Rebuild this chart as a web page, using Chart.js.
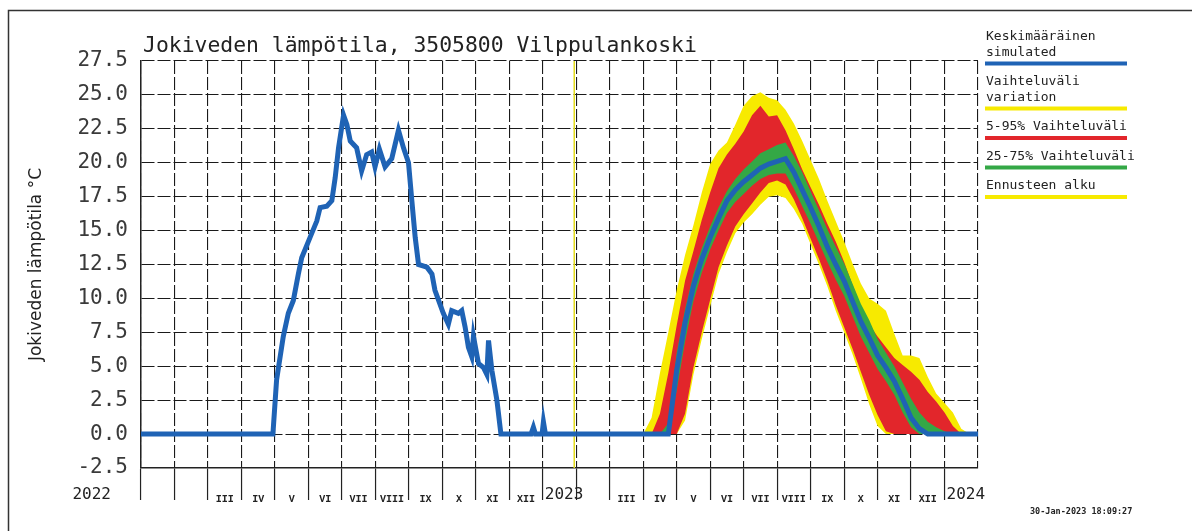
<!DOCTYPE html>
<html>
<head>
<meta charset="utf-8">
<script src="https://cdn.jsdelivr.net/npm/chart.js@4.4.0/dist/chart.umd.min.js"></script>
<style>
  body { margin: 0; background: #fff; }
  canvas { display: block; }
</style>
</head>
<body>
<canvas id="myChart" width="1192" height="531"></canvas>
<script>
// x = kuukausia alkaen 1.1.2022 (0 = tammikuu 2022, 12 = tammikuu 2023)
const chartTitle = 'Jokiveden lämpötila, 3505800 Vilppulankoski';
const yTitle = 'Jokiveden lämpötila °C';
const stamp = '30-Jan-2023 18:09:27';

// havaittu / simuloitu 2022
const obsMonths = [0, 3.94, 4.05, 4.25, 4.4, 4.55, 4.7, 4.8, 5.05, 5.25, 5.35, 5.55, 5.7, 5.8, 5.9, 6.05, 6.15, 6.25, 6.44, 6.59,
  6.74, 6.89, 6.99, 7.12, 7.29, 7.49, 7.69, 7.84, 7.99, 8.09, 8.19, 8.29, 8.54, 8.69, 8.78, 9.03, 9.18, 9.28, 9.48, 9.58,
  9.68, 9.78, 9.88, 9.93, 10.08, 10.23, 10.33, 10.38, 10.48, 10.63, 10.75, 11.65, 11.72, 11.78, 11.98, 12.02, 12.08, 13];
const obsTemp = [0, 0, 4.0, 7.2, 8.9, 9.85, 11.8, 13.0, 14.5, 15.7, 16.7, 16.8, 17.2, 18.9, 21.1, 23.5, 22.8, 21.6, 21.1, 19.4,
  20.6, 20.8, 19.7, 21.0, 19.7, 20.3, 22.4, 21.1, 20.0, 17.2, 14.5, 12.5, 12.3, 11.8, 10.6, 8.9, 8.1, 9.1, 8.9, 9.1,
  7.9, 6.4, 5.7, 7.2, 5.2, 4.9, 4.4, 6.9, 4.7, 2.5, 0, 0, 0.5, 0, 0, 0.9, 0, 0];

// ennuste 2023
const fcMonths = [13, 13.25, 13.5, 13.75, 14, 14.25, 14.5, 14.75, 15, 15.25, 15.5, 15.75, 16, 16.25, 16.5, 16.75,
  17, 17.25, 17.5, 17.75, 18, 18.25, 18.5, 18.75, 19, 19.25, 19.5, 19.75, 20, 20.25, 20.5, 20.75,
  21, 21.25, 21.5, 21.75, 22, 22.25, 22.5, 22.75, 23, 23.25, 23.5, 23.75, 24, 24.25, 24.5, 24.75, 25];
const fcMean = [0, 0, 0, 0, 0, 0, 0, 0, 0, 0, 0, 0, 4.7, 8.2, 10.9, 12.9,
  14.5, 15.9, 17.2, 18.0, 18.6, 19.1, 19.6, 19.9, 20.1, 20.3, 19.3, 18.0, 16.7, 15.3, 13.8, 12.5,
  11.3, 9.8, 8.3, 7.1, 5.8, 4.9, 3.9, 2.6, 1.2, 0.4, 0, 0, 0, 0, 0, 0, 0];
const p75 = [0, 0, 0, 0, 0, 0, 0, 0, 0, 0, 0, 0.8, 6.0, 9.2, 11.8, 13.7,
  15.3, 16.7, 17.9, 18.8, 19.5, 20.1, 20.7, 21.0, 21.3, 21.5, 20.5, 19.3, 17.9, 16.5, 15.1, 13.8,
  12.6, 11.1, 9.6, 8.4, 7.0, 6.0, 5.0, 3.8, 2.6, 1.6, 0.9, 0.5, 0.2, 0, 0, 0, 0];
const p25 = [0, 0, 0, 0, 0, 0, 0, 0, 0, 0, 0, 0, 3.2, 6.8, 9.8, 11.9,
  13.6, 15.0, 16.3, 17.1, 17.7, 18.3, 18.8, 19.1, 19.2, 19.2, 18.1, 16.8, 15.5, 14.1, 12.7, 11.4,
  10.2, 8.7, 7.2, 6.0, 4.8, 3.9, 2.9, 1.6, 0.5, 0, 0, 0, 0, 0, 0, 0, 0];
const p95 = [0, 0, 0, 0, 0, 0, 0, 0, 0, 0, 1.5, 4.5, 8.0, 11.3, 13.5, 15.8,
  17.8, 19.6, 20.6, 21.4, 22.3, 23.5, 24.2, 23.4, 23.5, 22.4, 21.0, 19.5, 18.2, 16.9, 15.5, 14.2,
  12.7, 11.0, 9.4, 8.1, 7.2, 6.4, 5.6, 5.1, 4.6, 4.0, 3.1, 2.4, 1.6, 0.6, 0, 0, 0];
const p5 = [0, 0, 0, 0, 0, 0, 0, 0, 0, 0, 0, 0, 0, 1.5, 4.9, 7.5,
  9.9, 12.3, 13.9, 15.3, 16.2, 17.0, 17.8, 18.5, 18.7, 18.4, 17.3, 15.9, 14.4, 12.9, 11.3, 9.5,
  7.9, 6.3, 4.6, 2.9, 1.4, 0.2, 0, 0, 0, 0, 0, 0, 0, 0, 0, 0, 0];
const varMax = [0, 0, 0, 0, 0, 0, 0, 0, 0, 1.2, 4.5, 7.5, 10.6, 13.2, 15.4, 17.8,
  19.9, 20.9, 21.5, 22.8, 24.2, 24.9, 25.2, 24.8, 24.6, 23.9, 22.9, 21.6, 20.2, 18.8, 17.2, 15.7,
  14.2, 12.6, 11.1, 10.0, 9.6, 9.1, 7.4, 5.8, 5.8, 5.6, 4.2, 3.0, 2.3, 1.6, 0.4, 0, 0];
const varMin = [0, 0, 0, 0, 0, 0, 0, 0, 0, 0, 0, 0, 0, 1.0, 4.4, 7.0,
  9.4, 11.8, 13.4, 14.8, 15.6, 16.2, 16.9, 17.5, 17.6, 17.4, 16.6, 15.5, 14.0, 12.5, 10.9, 9.1,
  7.5, 5.9, 4.1, 2.2, 0.6, 0, 0, 0, 0, 0, 0, 0, 0, 0, 0, 0, 0];

const forecastStart = 12.94; // 30.1.2023

const monthLabels = ['III', 'IV', 'V', 'VI', 'VII', 'VIII', 'IX', 'X', 'XI', 'XII'];
const yearLabels = ['2022', '2023', '2024'];
const yearTicks = [0, 12, 24];

const BLUE = '#1f63b5', YELLOW = '#f7ea00', RED = '#e2262b', GREEN = '#34a846';

const legendRows = [
  { lines: ['Keskimääräinen', 'simulated'], color: BLUE },
  { lines: ['Vaihteluväli', 'variation'], color: YELLOW },
  { lines: ['5-95% Vaihteluväli'], color: RED },
  { lines: ['25-75% Vaihteluväli'], color: GREEN },
  { lines: ['Ennusteen alku'], color: YELLOW }
];

const pts = (xs, ys) => xs.map((x, i) => ({ x: x, y: ys[i] }));

function band(data, color, fill) {
  return { data: data, borderWidth: 0, borderColor: color, backgroundColor: color, pointRadius: 0, fill: fill };
}

// koristeet: kehys, otsikko, selite, kuukaudet
const decor = {
  id: 'decor',
  beforeDraw(chart) {
    const ctx = chart.ctx;
    ctx.save();
    ctx.fillStyle = '#fff';
    ctx.fillRect(0, 0, chart.width, chart.height);
    ctx.strokeStyle = '#333';
    ctx.lineWidth = 1.5;
    ctx.beginPath();
    ctx.moveTo(8.5, 531);
    ctx.lineTo(8.5, 10.5);
    ctx.lineTo(1192, 10.5);
    ctx.stroke();
    ctx.restore();
  },
  afterDraw(chart) {
    const ctx = chart.ctx;
    const xs = chart.scales.x;
    ctx.save();
    ctx.fillStyle = '#222';
    ctx.textBaseline = 'middle';
    ctx.font = '21.4px "DejaVu Sans Mono"';
    ctx.fillText(chartTitle, 143, 46);

    ctx.font = 'bold 10px "Liberation Mono"';
    ctx.textAlign = 'center';
    [0, 12].forEach(off => {
      monthLabels.forEach((lab, i) => ctx.fillText(lab, xs.getPixelForValue(off + 2.5 + i), 499));
    });

    ctx.font = '16px "DejaVu Sans Mono"';
    ctx.textAlign = 'right';
    ctx.fillText(yearLabels[0], xs.getPixelForValue(yearTicks[0]) - 30, 495);
    ctx.textAlign = 'left';
    ctx.fillText(yearLabels[1], xs.getPixelForValue(yearTicks[1]) + 2, 495);
    ctx.fillText(yearLabels[2], xs.getPixelForValue(yearTicks[2]) + 2, 495);

    ctx.font = 'bold 8.5px "DejaVu Sans Mono"';
    ctx.fillText(stamp, 1030, 512);

    // selite
    ctx.font = '13px "DejaVu Sans Mono"';
    let y = 37;
    legendRows.forEach(row => {
      row.lines.forEach(t => { ctx.fillStyle = '#222'; ctx.fillText(t, 986, y); y += 15.5; });
      ctx.strokeStyle = row.color;
      ctx.lineWidth = 4;
      ctx.beginPath();
      ctx.moveTo(985, y - 4.5);
      ctx.lineTo(1127, y - 4.5);
      ctx.stroke();
      y += 14;
    });
    ctx.restore();
  }
};

const chart = new Chart(document.getElementById('myChart').getContext('2d'), {
  type: 'line',
  data: {
    datasets: [
      { data: pts(obsMonths, obsTemp), borderColor: BLUE, borderWidth: 5, pointRadius: 0, fill: false },
      { data: pts(fcMonths, fcMean), borderColor: BLUE, borderWidth: 5, pointRadius: 0, fill: false },
      { data: [{ x: forecastStart, y: -2.5 }, { x: forecastStart, y: 27.5 }], borderColor: '#e4dc1c', borderWidth: 1.5, pointRadius: 0, fill: false },
      band(pts(fcMonths, p75), GREEN, '+1'),
      band(pts(fcMonths, p25), GREEN, false),
      band(pts(fcMonths, p95), RED, '+1'),
      band(pts(fcMonths, p5), RED, false),
      band(pts(fcMonths, varMax), YELLOW, '+1'),
      band(pts(fcMonths, varMin), YELLOW, false)
    ]
  },
  options: {
    responsive: false,
    animation: false,
    devicePixelRatio: 1,
    layout: { padding: { left: 26, top: 61, right: 214, bottom: 0 } },
    plugins: { legend: { display: false }, tooltip: { enabled: false } },
    scales: {
      x: {
        type: 'linear', min: 0, max: 25,
        afterFit: s => { s.height = 63; },
        ticks: { stepSize: 1, autoSkip: false, callback: () => '', font: { size: 1 } },
        grid: {
          color: '#1a1a1a', lineWidth: 1.1, tickLength: 32, tickWidth: 1.2,
          tickColor: c => c.index === 25 ? 'rgba(0,0,0,0)' : '#222'
        },
        border: { display: true, color: '#222', width: 1.5, dash: [13, 3] }
      },
      y: {
        min: -2.5, max: 27.5,
        afterFit: s => { s.width = 115; },
        ticks: {
          stepSize: 2.5, padding: 13, color: '#3a3a3a',
          font: { family: '"DejaVu Sans Mono"', size: 21 },
          callback: v => v.toFixed(1)
        },
        grid: { color: '#1a1a1a', lineWidth: 1.1, drawTicks: false },
        border: { display: true, color: '#222', width: 1.5, dash: [13, 3] },
        title: {
          display: true, text: yTitle, color: '#222', padding: 0,
          font: { family: '"DejaVu Sans"', size: 17 }
        }
      }
    }
  },
  plugins: [decor]
});
</script>
</body>
</html>
